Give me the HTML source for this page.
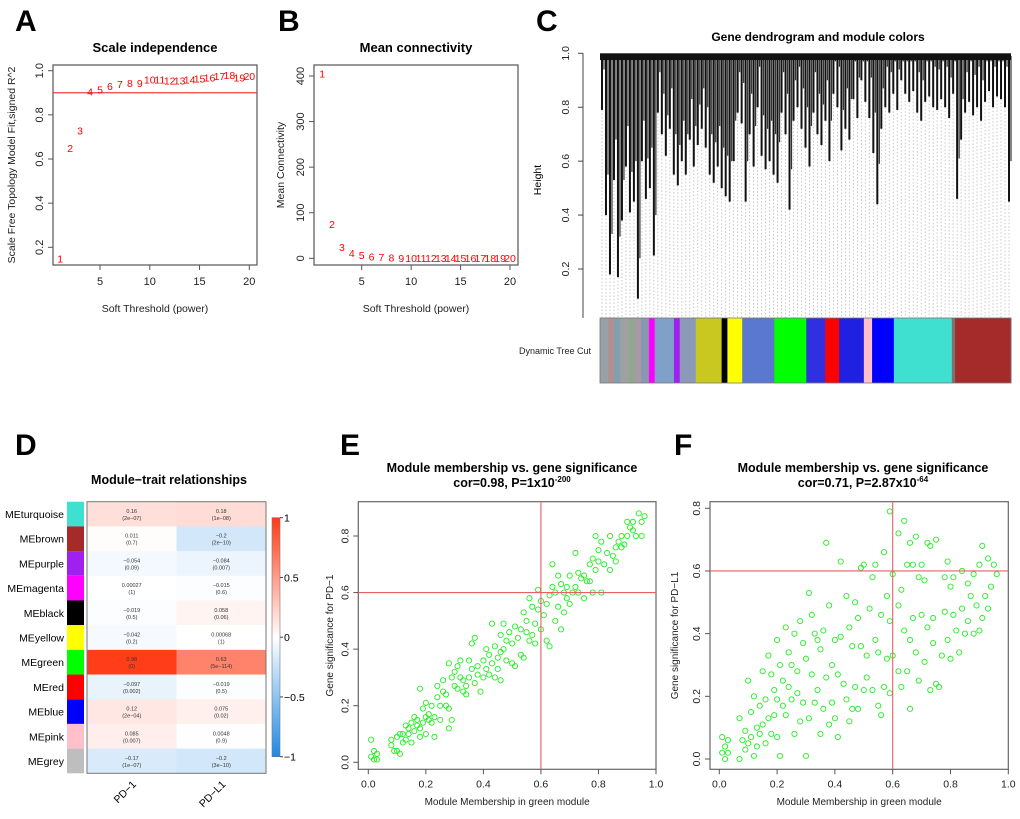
<!DOCTYPE html>
<html><head><meta charset="utf-8">
<style>
body{margin:0;background:#fff;}
svg{display:block;font-family:"Liberation Sans",Arial,sans-serif;}
</style></head>
<body>
<svg id="fig" width="1020" height="819" viewBox="0 0 1020 819" xmlns="http://www.w3.org/2000/svg">
<defs>
<linearGradient id="cbar" x1="0" y1="0" x2="0" y2="1">
<stop offset="0" stop-color="#ff3a14"/><stop offset="0.5" stop-color="#ffffff"/><stop offset="1" stop-color="#1e88e5"/>
</linearGradient>
</defs>
<g font-weight="bold" font-size="30" fill="#000">
<text x="15" y="31">A</text>
<text x="278" y="31">B</text>
<text x="536" y="31">C</text>
<text x="15" y="455">D</text>
<text x="340" y="455">E</text>
<text x="674" y="455">F</text>
</g>
<g id="pa"></g>
<g id="pb"></g>
<g id="pc"></g>
<g id="pd"></g>
<g id="pe"></g>
<g id="pf"></g>
</svg>
<script>
// ---- data ----
const powers=[1,2,3,4,5,6,7,8,9,10,11,12,13,14,15,16,17,18,19,20];
const scaleFitR2=[0.15,0.65,0.73,0.905,0.915,0.93,0.94,0.945,0.945,0.96,0.96,0.955,0.955,0.96,0.965,0.97,0.975,0.98,0.97,0.975];
const meanConn=[405,75,25,12,7,4,3,2,1,1,0.5,0.5,0.5,0.5,0.5,0.5,0.5,0.5,0.5,0.5];
const aTicksY=[0.2,0.4,0.6,0.8,1.0];
const abTicksX=[5,10,15,20];
const bTicksY=[0,100,200,300,400];
const leafHeights=[0.79,0.40,0.18,0.53,0.17,0.38,0.58,0.41,0.45,0.09,0.60,0.46,0.50,
0.25,0.78,0.70,0.62,0.72,0.55,0.51,0.60,0.55,0.68,0.58,0.66,
0.72,0.65,0.55,0.52,0.58,0.50,0.47,0.45,0.60,0.78,0.74,
0.45,0.70,0.58,0.80,0.62,0.57,0.60,0.55,0.52,0.78,0.70,0.42,0.75,0.80,
0.72,0.65,0.58,0.78,0.70,0.66,0.75,0.60,0.85,0.80,0.64,0.72,0.68,0.83,0.76,
0.90,0.82,0.76,0.63,0.44,0.72,0.80,0.78,0.85,0.79,
0.90,0.85,0.82,0.86,0.78,0.75,0.82,0.84,0.80,0.79,0.83,0.80,0.76,0.85,
0.46,0.68,0.78,0.82,0.77,0.80,0.75,0.82,0.86,0.80,0.84,0.83,0.80,0.45];
const cTicksY=[0.2,0.4,0.6,0.8,1.0];
const moduleStarts=[0,0.02,0.035,0.05,0.07,0.085,0.1,0.119,0.133,0.18,0.194,0.233,0.296,0.31,0.346,0.424,0.502,0.548,0.582,0.642,0.662,0.715,0.856,0.864];
const moduleColors=["#9aa0a8","#b09090","#80a0b0","#a0a0a0","#90a890","#a898a8","#8898b0","#ff00ff","#7fa0c8","#a020f0","#8a9ab8","#c8c820","#000000","#ffff00","#5a78d0","#00ff00","#3030e0","#ff0000","#2020e0","#ffc0cb","#0000ff","#40e0d0","#807070","#a52a2a"];
const modules=["MEturquoise","MEbrown","MEpurple","MEmagenta","MEblack","MEyellow","MEgreen","MEred","MEblue","MEpink","MEgrey"];
const modSwatch=["#40e0d0","#a52a2a","#a020f0","#ff00ff","#000000","#ffff00","#00ff00","#ff0000","#0000ff","#ffc0cb","#bebebe"];
const traits=["PD\u22121","PD\u2212L1"];
const corPD1=[0.16,0.011,-0.054,0.00027,-0.019,-0.042,0.98,-0.097,0.12,0.085,-0.17];
const pPD1=["2e-07","0.7","0.09","1","0.5","0.2","0","0.002","2e-04","0.007","1e-07"];
const corPDL1=[0.18,-0.2,-0.084,-0.015,0.058,0.00068,0.63,-0.019,0.075,0.0048,-0.2];
const pPDL1=["1e-08","2e-10","0.007","0.6","0.06","1","5e-114","0.5","0.02","0.9","3e-10"];
const cbTicks=[1,0.5,0,-0.5,-1];
const scatTicksX=[0.0,0.2,0.4,0.6,0.8,1.0];
const scatTicksY=[0.0,0.2,0.4,0.6,0.8];
const ePoints=[[0.01,0.02],[0.01,0.08],[0.02,0.01],[0.02,0.04],[0.03,0.03],[0.03,0.01],[0.08,0.08],[0.08,0.06],[0.09,0.04],[0.1,0.09],[0.1,0.04],[0.11,0.03],[0.11,0.1],[0.12,0.07],[0.12,0.1],[0.13,0.13],[0.13,0.08],[0.14,0.12],[0.14,0.1],[0.15,0.07],[0.15,0.14],[0.16,0.16],[0.16,0.11],[0.17,0.15],[0.17,0.13],[0.18,0.12],[0.18,0.26],[0.18,0.09],[0.19,0.19],[0.19,0.14],[0.2,0.1],[0.2,0.21],[0.2,0.16],[0.21,0.15],[0.21,0.17],[0.22,0.14],[0.22,0.2],[0.23,0.09],[0.23,0.16],[0.24,0.27],[0.24,0.23],[0.25,0.2],[0.25,0.15],[0.26,0.29],[0.26,0.25],[0.27,0.24],[0.27,0.2],[0.28,0.35],[0.28,0.12],[0.28,0.19],[0.29,0.3],[0.29,0.15],[0.3,0.32],[0.3,0.27],[0.31,0.26],[0.31,0.34],[0.32,0.3],[0.32,0.36],[0.33,0.25],[0.33,0.29],[0.34,0.27],[0.34,0.24],[0.35,0.36],[0.35,0.3],[0.36,0.42],[0.36,0.33],[0.37,0.44],[0.37,0.28],[0.38,0.34],[0.38,0.31],[0.39,0.25],[0.4,0.36],[0.4,0.3],[0.41,0.4],[0.41,0.33],[0.42,0.38],[0.42,0.31],[0.43,0.49],[0.43,0.35],[0.44,0.41],[0.44,0.3],[0.45,0.37],[0.45,0.33],[0.46,0.45],[0.46,0.29],[0.46,0.39],[0.47,0.49],[0.47,0.4],[0.48,0.43],[0.48,0.36],[0.49,0.46],[0.5,0.42],[0.5,0.35],[0.51,0.48],[0.51,0.34],[0.52,0.44],[0.53,0.47],[0.53,0.38],[0.54,0.53],[0.54,0.37],[0.55,0.46],[0.55,0.5],[0.56,0.58],[0.56,0.43],[0.57,0.55],[0.57,0.45],[0.58,0.42],[0.58,0.49],[0.59,0.61],[0.59,0.54],[0.6,0.57],[0.6,0.47],[0.61,0.52],[0.62,0.56],[0.62,0.43],[0.63,0.59],[0.63,0.41],[0.64,0.7],[0.64,0.62],[0.65,0.6],[0.65,0.5],[0.66,0.66],[0.66,0.55],[0.67,0.63],[0.67,0.47],[0.68,0.6],[0.68,0.53],[0.69,0.58],[0.69,0.62],[0.7,0.56],[0.7,0.66],[0.71,0.6],[0.72,0.74],[0.72,0.62],[0.73,0.67],[0.73,0.6],[0.74,0.65],[0.75,0.58],[0.75,0.66],[0.76,0.64],[0.77,0.7],[0.77,0.64],[0.78,0.72],[0.78,0.6],[0.79,0.8],[0.79,0.68],[0.8,0.75],[0.8,0.71],[0.81,0.78],[0.81,0.6],[0.82,0.7],[0.83,0.74],[0.84,0.8],[0.84,0.68],[0.85,0.73],[0.86,0.76],[0.86,0.71],[0.87,0.78],[0.88,0.8],[0.88,0.76],[0.89,0.77],[0.9,0.85],[0.9,0.8],[0.91,0.83],[0.92,0.82],[0.92,0.85],[0.93,0.8],[0.94,0.88],[0.95,0.8],[0.95,0.85],[0.96,0.87]];
const fPoints=[[0.01,0.07],[0.01,0.02],[0.02,0.0],[0.02,0.04],[0.03,0.02],[0.03,0.06],[0.07,0.0],[0.07,0.13],[0.08,0.06],[0.09,0.09],[0.09,0.03],[0.1,0.25],[0.1,0.05],[0.11,0.15],[0.11,0.07],[0.12,0.2],[0.12,0.01],[0.13,0.1],[0.13,0.04],[0.14,0.17],[0.14,0.08],[0.15,0.28],[0.15,0.11],[0.16,0.19],[0.16,0.05],[0.17,0.33],[0.17,0.13],[0.18,0.27],[0.18,0.08],[0.19,0.14],[0.19,0.22],[0.2,0.38],[0.2,0.19],[0.2,0.07],[0.21,0.3],[0.21,0.01],[0.22,0.17],[0.22,0.25],[0.23,0.42],[0.23,0.14],[0.24,0.34],[0.24,0.23],[0.25,0.3],[0.25,0.19],[0.26,0.4],[0.26,0.08],[0.27,0.28],[0.27,0.21],[0.28,0.44],[0.28,0.12],[0.29,0.37],[0.29,0.18],[0.3,0.32],[0.3,0.01],[0.31,0.53],[0.31,0.13],[0.32,0.46],[0.32,0.27],[0.33,0.4],[0.33,0.18],[0.34,0.38],[0.34,0.22],[0.35,0.08],[0.35,0.35],[0.36,0.41],[0.36,0.16],[0.37,0.69],[0.37,0.26],[0.38,0.49],[0.38,0.11],[0.39,0.3],[0.39,0.18],[0.4,0.38],[0.4,0.13],[0.41,0.27],[0.41,0.07],[0.42,0.63],[0.42,0.39],[0.43,0.24],[0.44,0.52],[0.44,0.19],[0.45,0.12],[0.45,0.42],[0.46,0.36],[0.46,0.16],[0.47,0.5],[0.47,0.23],[0.48,0.45],[0.48,0.16],[0.49,0.61],[0.49,0.36],[0.5,0.22],[0.5,0.62],[0.51,0.33],[0.51,0.26],[0.52,0.48],[0.53,0.58],[0.53,0.22],[0.54,0.62],[0.54,0.38],[0.55,0.34],[0.55,0.17],[0.56,0.46],[0.56,0.14],[0.57,0.66],[0.57,0.23],[0.58,0.52],[0.58,0.32],[0.59,0.79],[0.59,0.44],[0.59,0.21],[0.6,0.59],[0.6,0.33],[0.62,0.72],[0.62,0.49],[0.62,0.28],[0.63,0.54],[0.63,0.23],[0.64,0.76],[0.64,0.41],[0.65,0.62],[0.65,0.28],[0.66,0.69],[0.66,0.38],[0.66,0.16],[0.67,0.62],[0.67,0.45],[0.68,0.71],[0.68,0.34],[0.69,0.58],[0.69,0.25],[0.7,0.46],[0.7,0.62],[0.71,0.57],[0.71,0.31],[0.72,0.69],[0.72,0.42],[0.73,0.68],[0.73,0.22],[0.74,0.45],[0.74,0.37],[0.75,0.7],[0.75,0.24],[0.76,0.23],[0.77,0.33],[0.78,0.58],[0.78,0.47],[0.79,0.63],[0.79,0.38],[0.8,0.55],[0.8,0.32],[0.81,0.46],[0.81,0.58],[0.82,0.41],[0.83,0.34],[0.84,0.6],[0.84,0.48],[0.85,0.4],[0.86,0.56],[0.86,0.44],[0.87,0.52],[0.88,0.4],[0.88,0.59],[0.89,0.49],[0.9,0.62],[0.9,0.41],[0.91,0.68],[0.91,0.45],[0.92,0.52],[0.93,0.48],[0.93,0.64],[0.94,0.55],[0.95,0.62],[0.96,0.59]];

// ---- helpers ----
const NS="http://www.w3.org/2000/svg";
function mk(parent,tag,attrs,txt){const e=document.createElementNS(NS,tag);for(const k in attrs)e.setAttribute(k,attrs[k]);if(txt!==undefined)e.textContent=txt;parent.appendChild(e);return e;}
function lin(d0,d1,r0,r1){return v=>r0+(v-d0)*(r1-r0)/(d1-d0);}

// ---- Panel A & B ----
function wgPanel(g,x0,x1,y0,y1,sx,sy,vals,ticksY,ticksYfmt,title,ytitle,hline){
  mk(g,"text",{x:(x0+x1)/2,y:52,"font-size":13,"font-weight":"bold","text-anchor":"middle"},title);
  const box=mk(g,"rect",{x:x0,y:y0,width:x1-x0,height:y1-y0,fill:"none",stroke:"#555","stroke-width":1.2});
  
  if(hline!==undefined){const l=mk(g,"line",{x1:x0,x2:x1,y1:sy(hline),y2:sy(hline),stroke:"#f04040","stroke-width":1.3});}
  abTicksX.forEach(t=>{mk(g,"line",{x1:sx(t),x2:sx(t),y1:y1,y2:y1+5,stroke:"#555"});
    const tx=mk(g,"text",{x:sx(t),y:y1+20,"font-size":11,"text-anchor":"middle",fill:"#222"},t);});
  ticksY.forEach(t=>{mk(g,"line",{x1:x0-5,x2:x0,y1:sy(t),y2:sy(t),stroke:"#555"});
    const tx=mk(g,"text",{x:x0-10,y:sy(t),"font-size":11,"text-anchor":"middle",fill:"#222",transform:`rotate(-90 ${x0-10} ${sy(t)})`},ticksYfmt(t));});
  const xt=mk(g,"text",{x:(x0+x1)/2,y:312,"font-size":10.5,"text-anchor":"middle",fill:"#222"},"Soft Threshold (power)");
  const yx=x0-44+ (ytitle.length>20?6:14);
  const yt=mk(g,"text",{x:yx,y:(y0+y1)/2,"font-size":10.5,"text-anchor":"middle",fill:"#222",transform:`rotate(-90 ${yx} ${(y0+y1)/2})`},ytitle);
  powers.forEach((p,i)=>{const t=mk(g,"text",{x:sx(p),y:sy(vals[i])+4,"font-size":10.5,"text-anchor":"middle",fill:"#ff0000"},p);});
}
const gA=document.getElementById("pa");
wgPanel(gA,53,257,65,265,lin(5,20,100,249.3),lin(0.2,1.0,247.3,70.7),scaleFitR2,aTicksY,t=>t.toFixed(1),"Scale independence","Scale Free Topology Model Fit,signed R^2",0.9);
const gB=document.getElementById("pb");
wgPanel(gB,314,518,65,265,lin(5,20,361.7,510),lin(0,400,258.3,76),meanConn,bTicksY,t=>t,"Mean connectivity","Mean Connectivity");

// ---- Panel C ----
const gC=document.getElementById("pc");
const cx0=600,cx1=1011,cy=lin(0.2,1.0,269,53.3),barTop=318,barBot=383;
mk(gC,"text",{x:818,y:41,"font-size":12,"font-weight":"bold","text-anchor":"middle"},"Gene dendrogram and module colors");
mk(gC,"line",{x1:583,x2:583,y1:cy(1.0),y2:barTop,stroke:"#444"});
cTicksY.forEach(t=>{mk(gC,"line",{x1:578,x2:583,y1:cy(t),y2:cy(t),stroke:"#444"});
  const tx=mk(gC,"text",{x:569,y:cy(t),"font-size":10.5,"text-anchor":"middle",fill:"#222",transform:`rotate(-90 569 ${cy(t)})`},t.toFixed(1));});
mk(gC,"text",{x:541,y:180,"font-size":10.5,"text-anchor":"middle",transform:"rotate(-90 541 180)"},"Height");
const nL=leafHeights.length,step=(cx1-cx0)/nL;
leafHeights.forEach((h,i)=>{const x=cx0+step*(i+0.5);
  const d=mk(gC,"line",{x1:x,x2:x,y1:cy(h),y2:barTop,stroke:"#bbb","stroke-width":0.8,"stroke-dasharray":"1.5,2"});
  const l=mk(gC,"line",{x1:x,x2:x,y1:cy(0.99),y2:cy(h),stroke:"#111","stroke-width":2});
  const l2=mk(gC,"line",{x1:x+step/2,x2:x+step/2,y1:cy(0.99),y2:cy(Math.min(0.97,h+0.15)),stroke:"#333","stroke-width":1.2});});
const topBand=mk(gC,"rect",{x:cx0,y:cy(1.0),width:cx1-cx0,height:cy(0.975)-cy(1.0),fill:"#111"});

moduleStarts.forEach((s,i)=>{const e=i<moduleStarts.length-1?moduleStarts[i+1]:1;
  const r=mk(gC,"rect",{x:cx0+s*(cx1-cx0),y:barTop,width:(e-s)*(cx1-cx0)+0.5,height:barBot-barTop,fill:moduleColors[i]});});
mk(gC,"rect",{x:cx0,y:barTop,width:cx1-cx0,height:barBot-barTop,fill:"none",stroke:"#777","stroke-width":0.8});
mk(gC,"text",{x:555,y:354,"font-size":9,"text-anchor":"middle",fill:"#222"},"Dynamic Tree Cut");

// ---- Panel D ----
const gD=document.getElementById("pd");
function corColor(v){const a=Math.min(1,Math.abs(v));
  const t=v>=0?[255,58,20]:[30,136,229];
  return `rgb(${Math.round(255+(t[0]-255)*a)},${Math.round(255+(t[1]-255)*a)},${Math.round(255+(t[2]-255)*a)})`;}
const hx0=87,hx1=266,hy0=501.7,hy1=773.3,rowH=(hy1-hy0)/modules.length,colW=(hx1-hx0)/2;
mk(gD,"text",{x:169,y:484,"font-size":12.5,"font-weight":"bold","text-anchor":"middle"},"Module\u2212trait relationships");
modules.forEach((m,i)=>{const y=hy0+i*rowH;
  mk(gD,"rect",{x:67,y:y,width:17,height:rowH,fill:modSwatch[i]});
  mk(gD,"text",{x:64,y:y+rowH/2+4,"font-size":10.5,"text-anchor":"end"},m);
  [[corPD1,pPD1],[corPDL1,pPDL1]].forEach((s,j)=>{const x=hx0+j*colW;
    mk(gD,"rect",{x:x,y:y,width:colW+0.3,height:rowH+0.3,fill:corColor(s[0][i])});
    mk(gD,"text",{x:x+colW/2,y:y+rowH/2-1,"font-size":5.5,"text-anchor":"middle",fill:"#333"},String(s[0][i]).replace("-","\u2212"));
    mk(gD,"text",{x:x+colW/2,y:y+rowH/2+6,"font-size":5.5,"text-anchor":"middle",fill:"#333"},"("+s[1][i].replace("-","\u2212")+")");});});
mk(gD,"rect",{x:hx0,y:hy0,width:hx1-hx0,height:hy1-hy0,fill:"none",stroke:"#777","stroke-width":1});
const cbY=lin(1,-1,517.7,756.7);
mk(gD,"rect",{x:272,y:517.7,width:8,height:239,fill:"url(#cbar)",stroke:"#777","stroke-width":0.6});
cbTicks.forEach(t=>{mk(gD,"line",{x1:280,x2:283,y1:cbY(t),y2:cbY(t),stroke:"#444"});
  mk(gD,"text",{x:284,y:cbY(t)+4,"font-size":10.5},String(t).replace("-","\u2212"));});
traits.forEach((t,j)=>{const x=hx0+colW*(j+0.5)+5,y=785;
  mk(gD,"text",{x:x,y:y,"font-size":10.5,"text-anchor":"end",transform:`rotate(-45 ${x} ${y})`},t);});

// ---- Panels E & F ----
function scatter(g,x0,x1,y0,y1,sx,sy,pts,tcx,cortxt,ptxt,ylab,ylx){
  const t1=mk(g,"text",{x:tcx,y:472,"font-size":12.5,"font-weight":"bold","text-anchor":"middle"},"Module membership vs. gene significance");
  const t2=mk(g,"text",{x:tcx,y:487,"font-size":12.5,"font-weight":"bold","text-anchor":"middle"},cortxt);
  mk(t2,"tspan",{"font-size":8,dy:-5},ptxt);
  mk(g,"rect",{x:x0,y:y0,width:x1-x0,height:y1-y0,fill:"none",stroke:"#666","stroke-width":1.2});
  scatTicksX.forEach(t=>{mk(g,"line",{x1:sx(t),x2:sx(t),y1:y1,y2:y1+5,stroke:"#555"});
    mk(g,"text",{x:sx(t),y:y1+18,"font-size":10.5,"text-anchor":"middle",fill:"#222"},t.toFixed(1));});
  scatTicksY.forEach(t=>{mk(g,"line",{x1:x0-5,x2:x0,y1:sy(t),y2:sy(t),stroke:"#555"});
    mk(g,"text",{x:x0-10,y:sy(t),"font-size":10.5,"text-anchor":"middle",fill:"#222",transform:`rotate(-90 ${x0-10} ${sy(t)})`},t.toFixed(1));});
  mk(g,"text",{x:(x0+x1)/2,y:805,"font-size":10,"text-anchor":"middle",fill:"#222"},"Module Membership in green module");
  const ym=(y0+y1)/2;
  mk(g,"text",{x:ylx,y:ym,"font-size":10,"text-anchor":"middle",fill:"#222",transform:`rotate(-90 ${ylx} ${ym})`},ylab);
  pts.forEach(p=>{const c=mk(g,"circle",{cx:sx(p[0]),cy:sy(p[1]),r:2.6,fill:"none",stroke:"#22ee22","stroke-width":0.9});});
  mk(g,"line",{x1:sx(0.6),x2:sx(0.6),y1:y0,y2:y1,stroke:"#e86060","stroke-width":1.1});
  mk(g,"line",{x1:x0,x2:x1,y1:sy(0.6),y2:sy(0.6),stroke:"#e86060","stroke-width":1.1});
}
scatter(document.getElementById("pe"),358.3,656,501.7,769.3,lin(0,1,368.3,656),lin(0,0.8,762.3,536),ePoints,512,"cor=0.98, P=1x10","-200","Gene significance for  PD\u22121",333);
scatter(document.getElementById("pf"),710,1008.3,501.7,769.3,lin(0,1,719.3,1008.3),lin(0,0.8,759,508.3),fPoints,863,"cor=0.71, P=2.87x10","-64","Gene significance for  PD\u2212L1",678);
</script>
</body></html>
